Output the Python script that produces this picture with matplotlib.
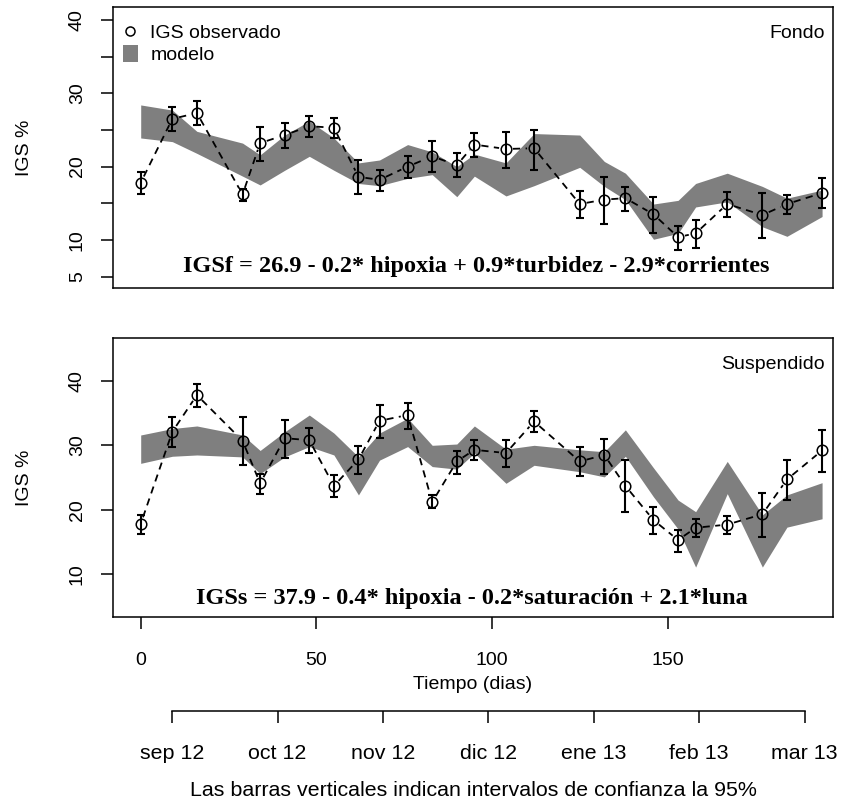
import numpy as np
import matplotlib
matplotlib.use("Agg")
import matplotlib.pyplot as plt
from matplotlib.lines import Line2D
from matplotlib.patches import Patch

plt.rcParams['font.family'] = ['Liberation Sans', 'DejaVu Sans']

# días de muestreo
dias = [0, 9, 16, 29, 34, 41, 48, 55, 62, 68, 76, 83, 90, 95, 104, 112,
        125, 132, 138, 146, 153, 158, 167, 177, 184, 194]

# IGS fondo: observado e intervalo de confianza 95%
fondo_obs = [17.8, 26.5, 27.3, 16.2, 23.2, 24.3, 25.5, 25.3, 18.6, 18.2, 20.0, 21.4, 20.2,
             23.0, 22.4, 22.5, 14.9, 15.5, 15.7, 13.5, 10.4, 10.9, 14.9, 13.4, 14.9, 16.4]
fondo_sup = [19.2, 28.1, 28.9, 17.0, 25.4, 25.9, 26.9, 26.6, 20.9, 19.6, 21.4, 23.5, 21.8,
             24.6, 24.7, 25.0, 16.7, 18.6, 17.2, 15.9, 11.9, 12.7, 16.6, 16.4, 16.1, 18.4]
fondo_inf = [16.3, 24.8, 25.7, 15.3, 20.8, 22.5, 24.0, 23.9, 16.3, 16.7, 18.4, 19.2, 18.6,
             21.3, 19.8, 19.5, 13.0, 12.2, 13.9, 10.9, 8.7, 8.9, 13.1, 10.3, 13.5, 14.3]
# banda del modelo (fondo)
fondo_mod_sup = [28.4, 27.7, 24.8, 23.2, 21.6, 24.3, 26.2, 23.9, 20.5, 20.9, 23.0, 22.0, 20.0,
                 21.7, 20.5, 24.5, 24.3, 20.7, 19.1, 14.9, 15.4, 17.7, 19.1, 17.3, 15.7, 16.8]
fondo_mod_inf = [23.9, 23.4, 21.8, 18.7, 17.5, 19.5, 21.4, 19.5, 17.7, 17.4, 18.4, 18.9, 15.9,
                 18.7, 16.0, 17.4, 19.9, 17.3, 15.5, 10.1, 10.9, 14.5, 15.2, 11.8, 10.5, 13.2]

# IGS suspendido
susp_obs = [17.8, 32.1, 37.8, 30.7, 24.1, 31.1, 30.8, 23.7, 27.8, 33.8, 34.7, 21.2, 27.5,
            29.3, 28.8, 33.7, 27.5, 28.5, 23.7, 18.4, 15.3, 17.2, 17.7, 19.3, 24.7, 29.2]
susp_sup = [19.2, 34.4, 39.5, 34.4, 25.6, 33.9, 32.7, 25.4, 29.9, 36.2, 36.6, 22.3, 29.1,
            30.9, 30.8, 35.4, 29.8, 31.0, 27.7, 20.5, 16.8, 18.6, 19.0, 22.6, 27.7, 32.4]
susp_inf = [16.2, 29.8, 35.9, 26.9, 22.5, 28.1, 28.8, 22.0, 25.6, 31.2, 32.6, 20.2, 25.6,
            27.7, 26.7, 32.0, 25.2, 25.6, 19.7, 16.2, 13.5, 15.8, 16.3, 15.8, 21.5, 25.9]
susp_mod_sup = [31.6, 32.6, 33.0, 31.6, 29.2, 32.1, 34.7, 31.9, 28.2, 31.9, 34.2, 30.0, 30.2,
                33.0, 29.4, 30.0, 29.3, 29.0, 32.4, 26.5, 21.5, 19.7, 27.5, 19.2, 22.3, 24.2]
susp_mod_inf = [27.2, 28.3, 28.5, 28.2, 25.6, 28.2, 29.8, 28.5, 22.3, 27.7, 29.8, 26.7, 26.3,
                28.8, 24.1, 26.9, 25.9, 25.1, 28.3, 22.0, 17.0, 11.1, 22.5, 11.1, 17.3, 18.6]

# eje de meses
meses_pos = [9, 39, 69, 99, 129, 159, 189]
meses_lab = ["sep 12", "oct 12", "nov 12", "dic 12", "ene 13", "feb 13", "mar 13"]

GRIS = "#7f7f7f"
XLIM = (-7.9, 197.1)
TICK_LEN = 8.6


def linea_b(ax, x, y, gap_px=7.0):
    """Dashed line between points with a gap around each symbol (R type='b')."""
    pts = ax.transData.transform(np.column_stack([x, y]))
    inv = ax.transData.inverted()
    for p0, p1 in zip(pts[:-1], pts[1:]):
        d = p1 - p0
        L = np.hypot(*d)
        if L <= 2 * gap_px:
            continue
        u = d / L
        a = inv.transform(p0 + u * gap_px)
        b = inv.transform(p1 - u * gap_px)
        ax.plot([a[0], b[0]], [a[1], b[1]], color="k", lw=1.3,
                ls=(0, (4.0, 3.0)), zorder=3)


def panel(ax, obs, sup, inf, msup, minf, ylim, yticks, ylabels, nombre, ecuacion, eq_xy):
    ax.set_xlim(*XLIM)
    ax.set_ylim(*ylim)
    ax.fill_between(dias, minf, msup, color=GRIS, lw=0, zorder=1)
    linea_b(ax, dias, obs)
    obs = np.array(obs)
    ax.errorbar(dias, obs, yerr=[obs - np.array(inf), np.array(sup) - obs], fmt="none",
                ecolor="k", elinewidth=1.5, capsize=2.6, capthick=1.5, zorder=5)
    ax.plot(dias, obs, ls="none", marker="o", ms=7.6, mfc="none", mec="k", mew=1.1, zorder=4)
    ax.set_yticks(yticks)
    ax.set_yticklabels(ylabels, rotation=90, va="center")
    ax.tick_params(axis="both", direction="out", length=TICK_LEN, width=1.1, labelsize=14)
    ax.tick_params(axis="y", pad=11)
    ax.tick_params(axis="x", pad=17)
    for s in ax.spines.values():
        s.set_linewidth(1.1)
    ax.set_ylabel("IGS %", fontsize=14, va="center")
    ax.yaxis.set_label_coords(-0.1235, 0.5)
    ax.text(0.989, 0.905, nombre, transform=ax.transAxes, ha="right", va="center", fontsize=14)
    ax.text(eq_xy[0], eq_xy[1], ecuacion, transform=ax.transAxes, ha="center", va="center",
            fontsize=17.5, fontweight="bold", family="Liberation Serif")


fig = plt.figure(figsize=(8.43, 8.05), dpi=100)
ax1 = fig.add_axes([0.134, 0.6426, 0.8541, 0.3483])
ax2 = fig.add_axes([0.134, 0.2339, 0.8541, 0.3458])

panel(ax1, fondo_obs, fondo_sup, fondo_inf, fondo_mod_sup, fondo_mod_inf,
      (3.5, 41.7), [5, 10, 15, 20, 25, 30, 35, 40], ["5", "10", "", "20", "", "30", "", "40"],
      "Fondo", "IGSf = 26.9 - 0.2* hipoxia + 0.9*turbidez - 2.9*corrientes", (0.505, 0.077))
ax1.tick_params(axis="x", bottom=False, labelbottom=False)

panel(ax2, susp_obs, susp_sup, susp_inf, susp_mod_sup, susp_mod_inf,
      (3.4, 46.6), [10, 20, 30, 40], ["10", "20", "30", "40"],
      "Suspendido", "IGSs = 37.9 - 0.4* hipoxia - 0.2*saturación + 2.1*luna", (0.498, 0.067))
ax2.set_xticks([0, 50, 100, 150])
ax2.set_xlabel("Tiempo (dias)", fontsize=14)
ax2.xaxis.set_label_coords(0.5, -0.245)
ax2.xaxis.label.set_verticalalignment("center")

ax1.legend(handles=[Line2D([], [], ls="none", marker="o", ms=6.5, mfc="none", mec="k", mew=1.1),
                    Patch(facecolor=GRIS, edgecolor="none")],
           labels=["IGS observado", "modelo"], loc="upper left", frameon=False, fontsize=14,
           handlelength=0.75, handleheight=0.95, handletextpad=0.65, labelspacing=0.15,
           borderaxespad=0.0, borderpad=0.0, bbox_to_anchor=(0.0139, 0.944))

# eje de meses bajo el gráfico
ax3 = fig.add_axes([0.134, 1 - 711 / 805, 0.8541, 1e-4])
ax3.set_xlim(*XLIM)
for k in ("top", "left", "right"):
    ax3.spines[k].set_visible(False)
ax3.spines["bottom"].set_bounds(meses_pos[0], meses_pos[-1])
ax3.spines["bottom"].set_linewidth(1.1)
ax3.set_yticks([])
ax3.set_xticks(meses_pos)
ax3.set_xticklabels(meses_lab)
ax3.tick_params(axis="x", direction="out", length=TICK_LEN, width=1.1, labelsize=15.4, pad=15.5)
ax3.patch.set_visible(False)

fig.text(473 / 843, 1 - 790 / 805, "Las barras verticales indican intervalos de confianza la 95%",
         ha="center", va="center", fontsize=15.4)

fig.savefig("out.png", dpi=100)
